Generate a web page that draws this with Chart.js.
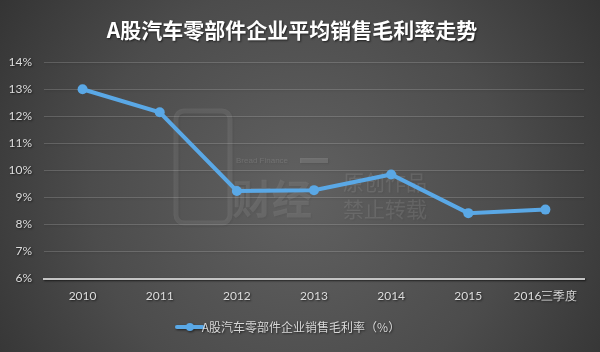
<!DOCTYPE html>
<html>
<head>
<meta charset="utf-8">
<script src="https://cdn.jsdelivr.net/npm/chart.js@4/dist/chart.umd.min.js"></script>
<style>
  html, body { margin: 0; padding: 0; background: #3a3a3a; }
  #wrap { width: 600px; height: 352px; position: relative; }
  canvas { display: block; }
</style>
</head>
<body>
<div id="wrap"><canvas id="c" width="600" height="352"></canvas></div>
<script>
const categories = ['2010', '2011', '2012', '2013', '2014', '2015', '2016三季度'];
const marginValues = [13.0, 12.15, 9.24, 9.27, 9.85, 8.42, 8.55];
const seriesName = 'A股汽车零部件企业销售毛利率（%）';
const chartTitle = 'A股汽车零部件企业平均销售毛利率走势';
const yMin = 6, yMax = 14, yStep = 1;

const lineColor = '#5aa8e6';

// legend swatch: line with a dot
const sw = document.createElement('canvas');
sw.width = 30; sw.height = 10;
(function () {
  const g = sw.getContext('2d');
  g.strokeStyle = lineColor; g.lineWidth = 4; g.lineCap = 'round';
  g.beginPath(); g.moveTo(2, 5); g.lineTo(28, 5); g.stroke();
  g.fillStyle = lineColor;
  g.beginPath(); g.arc(15, 5, 4, 0, Math.PI * 2); g.fill();
})();

const bgPlugin = {
  id: 'bg',
  beforeDraw(chart) {
    const ctx = chart.ctx, w = chart.width, h = chart.height;
    ctx.save();
    const grd = ctx.createRadialGradient(w * 0.5, h * 0.55, 10, w * 0.5, h * 0.55, w * 0.62);
    grd.addColorStop(0, '#606060');
    grd.addColorStop(0.55, '#4c4c4c');
    grd.addColorStop(1, '#323232');
    ctx.fillStyle = grd;
    ctx.fillRect(0, 0, w, h);
    ctx.restore();
  },
  beforeDatasetsDraw(chart) {
    const ctx = chart.ctx;
    ctx.save();
    ctx.fillStyle = 'rgba(255,255,255,0.09)';
    ctx.strokeStyle = 'rgba(255,255,255,0.09)';
    ctx.lineWidth = 5;
    // logo box
    ctx.beginPath();
    ctx.roundRect(176, 111, 54, 112, 8);
    ctx.stroke();
    ctx.textBaseline = 'middle';
    ctx.font = 'bold 40px "Noto Sans CJK SC"';
    ctx.fillText('财经', 232, 199);
    ctx.font = '8px "Liberation Sans"';
    ctx.fillStyle = 'rgba(255,255,255,0.14)';
    ctx.fillText('Bread Finance', 236, 161);
    ctx.fillRect(300, 158, 28, 5);
    ctx.fillStyle = 'rgba(255,255,255,0.10)';
    ctx.font = '21px "Noto Sans CJK SC"';
    ctx.fillText('原创作品', 343, 182);
    ctx.fillText('禁止转载', 343, 209);
    ctx.restore();
  }
};

const titleShadow = {
  id: 'titleShadow',
  beforeDraw(chart) {
    chart.ctx.save();
    chart.ctx.shadowColor = 'rgba(0,0,0,0.6)';
    chart.ctx.shadowOffsetX = 1;
    chart.ctx.shadowOffsetY = 1;
    chart.ctx.shadowBlur = 2;
  },
  beforeDatasetsDraw(chart) {
    chart.ctx.restore();
  }
};

new Chart(document.getElementById('c'), {
  type: 'line',
  data: {
    labels: categories,
    datasets: [{
      label: seriesName,
      data: marginValues,
      borderColor: lineColor,
      backgroundColor: lineColor,
      borderWidth: 4,
      pointRadius: 5,
      pointHoverRadius: 5,
      pointBackgroundColor: lineColor,
      pointBorderColor: lineColor,
      pointBorderWidth: 0,
      tension: 0,
      fill: false
    }]
  },
  options: {
    responsive: false,
    animation: false,
    devicePixelRatio: 1,
    layout: { padding: { left: 0, right: 16, top: 0, bottom: 9 } },
    plugins: {
      title: {
        display: true,
        text: chartTitle,
        color: '#ffffff',
        font: { family: '"Noto Sans CJK SC"', size: 21, weight: 'bold' },
        padding: { top: 17, bottom: 20 }
      },
      legend: {
        position: 'bottom',
        labels: {
          color: '#d8d8d8',
          font: { family: '"Noto Sans CJK SC"', size: 12 },
          usePointStyle: true,
          pointStyle: sw,
          boxWidth: 30,
          boxHeight: 10,
          padding: 8
        }
      },
      tooltip: { enabled: false }
    },
    scales: {
      x: {
        offset: true,
        grid: { display: false, drawTicks: false },
        border: { display: true, color: '#c4c4c4', width: 2 },
        ticks: {
          color: '#dcdcdc',
          font: { family: 'Lato', size: 12 },
          padding: 10,
          maxRotation: 0
        }
      },
      y: {
        min: yMin,
        max: yMax,
        afterFit(scale) { scale.width = 44; },
        grid: { color: 'rgba(255,255,255,0.17)', drawTicks: false, lineWidth: 1 },
        border: { display: false },
        ticks: {
          stepSize: yStep,
          color: '#dcdcdc',
          font: { family: 'Lato', size: 12 },
          padding: 12,
          callback: v => v + '%'
        }
      }
    }
  },
  plugins: [bgPlugin, titleShadow]
});
</script>
</body>
</html>
